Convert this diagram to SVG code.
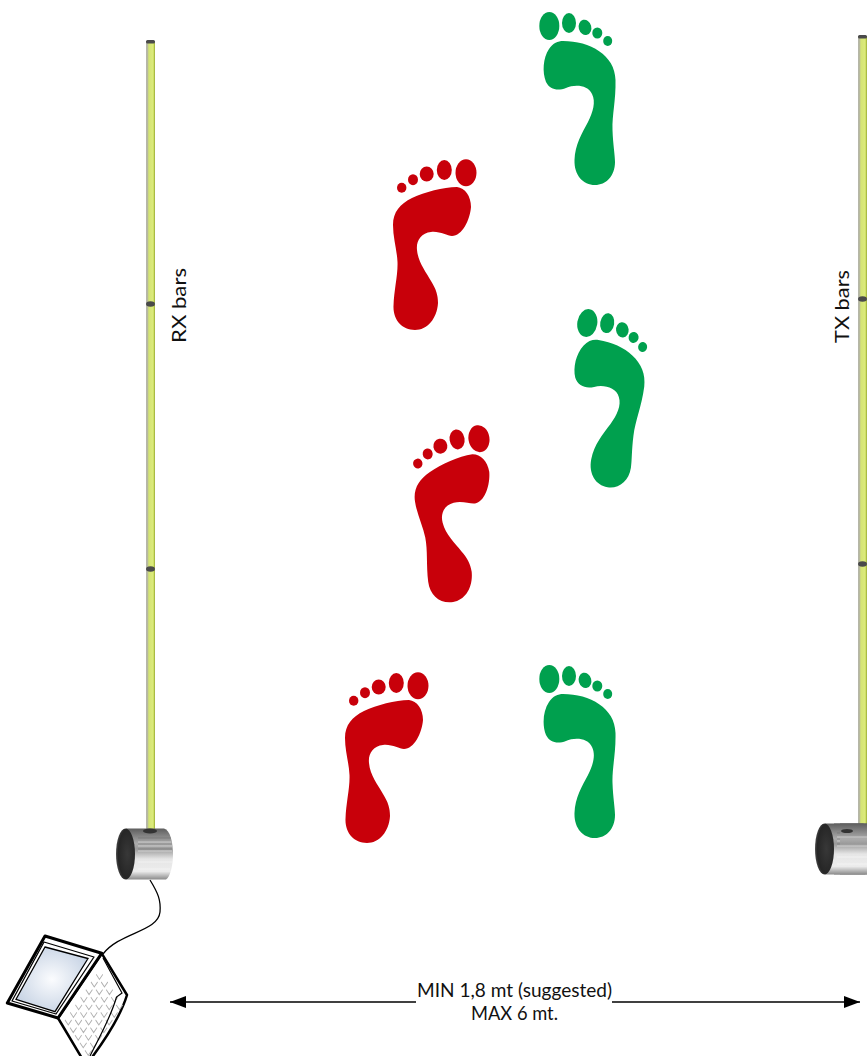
<svg xmlns="http://www.w3.org/2000/svg" width="867" height="1056" viewBox="0 0 867 1056">
<style>
text{font-family:Lato,"Open Sans","Liberation Sans",sans-serif;font-size:19.5px;fill:#111}
.conn{fill:none;stroke:#000;stroke-width:1.3}
.joint{fill:#4a4a4a}
.green{fill:#00a04e}
.red{fill:#c8000a}
.key{fill:none;stroke:#b0b0b0;stroke-width:.11}
.lap{fill:#fff;stroke:#000;stroke-linejoin:round}
.streak{stroke:#fff;stroke-opacity:.45;stroke-width:1;fill:none}
.streakd{stroke:#555;stroke-opacity:.35;stroke-width:1;fill:none}
</style>
<defs>
<linearGradient id="bar" x1="0" x2="1" y1="0" y2="0">
<stop offset="0" stop-color="#b5b5ae"/><stop offset=".22" stop-color="#b8bb98"/><stop offset=".3" stop-color="#d4e473"/><stop offset=".75" stop-color="#dbea7c"/><stop offset=".88" stop-color="#c8da5c"/><stop offset="1" stop-color="#8fa030"/>
</linearGradient>
<linearGradient id="metal" x1="0" x2="0" y1="0" y2="1">
<stop offset="0" stop-color="#5e5e5e"/><stop offset=".12" stop-color="#7d7d7d"/><stop offset=".3" stop-color="#acacac"/><stop offset=".4" stop-color="#9a9a9a"/><stop offset=".6" stop-color="#e6e6e6"/><stop offset=".84" stop-color="#ececec"/><stop offset="1" stop-color="#8a8a8a"/>
</linearGradient>
<radialGradient id="cap" cx=".6" cy=".5" r=".6">
<stop offset="0" stop-color="#383838"/><stop offset=".8" stop-color="#262626"/><stop offset="1" stop-color="#4a4a4a"/>
</radialGradient>
<radialGradient id="screen" cx=".5" cy=".5" r=".6">
<stop offset="0" stop-color="#fbfcfe"/><stop offset="1" stop-color="#c3d0e2"/>
</radialGradient>
<marker id="tip" viewBox="0 0 16 12" refX="16" refY="6" markerWidth="16" markerHeight="12" markerUnits="userSpaceOnUse" orient="auto-start-reverse"><path d="M0 0L16 6L0 12Z" fill="#000"/></marker>
<g id="greenFoot" class="green">
<ellipse cx="549.300" cy="26" rx="10" ry="14"/>
<ellipse cx="569" cy="23" rx="7" ry="10"/>
<ellipse cx="585" cy="27.300" rx="6.300" ry="7.700" transform="rotate(-15 585 27.300)"/>
<ellipse cx="597.300" cy="33" rx="5" ry="5.500"/>
<ellipse cx="607.700" cy="41" rx="4.500" ry="5"/>
<path d="M563 41C590 41 615 55 615.500 80C616 100 612 115 612.500 130C613 145 615 155 615 162C615 176 606 185 595 185C583 185 574 175 574.500 160C575 145 582 133 588 122C593 112 596 102 592 94C588 85 575 84 566 88C558 91 550 90 546 82C542 72 543 58 549 49C553 43 558 41 563 41Z"/>
</g>
<g id="redFoot" class="red">
<ellipse cx="466" cy="172.700" rx="10.500" ry="13.500"/>
<ellipse cx="444.300" cy="170" rx="7.500" ry="10"/>
<ellipse cx="426.700" cy="174" rx="7" ry="7.500"/>
<ellipse cx="413" cy="179.700" rx="5" ry="5.500"/>
<ellipse cx="401.700" cy="187.700" rx="4.700" ry="5"/>
<path d="M457 187C465 188 471 196 471 207C470 220 462 236 452 236C447 236 440 231 431 232C421 233 416 241 417 250C418 262 426 272 431 281C436 289 438 295 438 303C437 319 427 330 415 330C402 330 393 320 393.500 306C394 290 398 275 397.500 262C397 250 393 238 393 225C393 212 400 204 412 198C425 192 443 187 457 187Z"/>
</g>
<g id="drum">
<path d="M126 828.500H164C170 830 173 842 173 854C173 866 170 877 166 879.500H126Z" fill="url(#metal)"/>
<path class="streak" d="M138 842H171M138 846H172M138 851H172M138 862H172M138 869H170"/>
<path class="streakd" d="M138 838H171M138 844H172M138 849H172"/>
<ellipse cx="125.500" cy="854" rx="9.500" ry="25.500" fill="url(#cap)"/>
</g>
<path id="keyrow" class="key" d="M0 0v.65h.65m.35-.65v.65h.65m.35-.65v.65h.65m.35-.65v.65h.65m.35-.65v.65h.65m.35-.65v.65h.65m.35-.65v.65h.65"/>
</defs>

<g id="connectors">
<path class="conn" d="M150 880C158 893 161 900 160 912C158 932 120 932 103 954"/>
<line class="conn" x1="170" y1="1002" x2="416" y2="1002" marker-start="url(#tip)"/>
<line class="conn" x1="612" y1="1002" x2="860" y2="1002" marker-end="url(#tip)"/>
</g>

<g id="rx-bars">
<rect x="146" y="41" width="9" height="792" fill="url(#bar)"/>
<rect x="146" y="40" width="9" height="3.500" rx="1.500" class="joint"/>
<ellipse class="joint" cx="150.500" cy="304" rx="4.500" ry="2.800"/>
<ellipse class="joint" cx="150.500" cy="569" rx="4.500" ry="2.800"/>
</g>
<g id="tx-bars">
<rect x="858" y="36" width="9" height="792" fill="url(#bar)"/>
<rect x="858" y="35" width="9" height="3.500" rx="1.500" class="joint"/>
<ellipse class="joint" cx="862.500" cy="299" rx="4.500" ry="2.800"/>
<ellipse class="joint" cx="862.500" cy="564" rx="4.500" ry="2.800"/>
</g>
<g id="rx-label"><text transform="translate(186 343) rotate(-90)" textLength="75" lengthAdjust="spacingAndGlyphs">RX bars</text></g>
<g id="tx-label"><text transform="translate(849 343) rotate(-90)" textLength="73" lengthAdjust="spacingAndGlyphs">TX bars</text></g>

<g id="rx-drum"><use href="#drum"/><ellipse cx="150" cy="831" rx="7" ry="2.500" fill="#333"/></g>
<g id="tx-drum"><rect x="834" y="823.500" width="33" height="51" fill="url(#metal)"/><use href="#drum" x="699" y="-5"/><rect x="840" y="823.500" width="27" height="51" fill="url(#metal)"/><path class="streak" d="M840 837H867M840 846H867M840 857H867M840 864H867"/><ellipse cx="847" cy="831" rx="6" ry="2" fill="#333"/></g>

<g id="foot-green-1"><use href="#greenFoot"/></g>
<g id="foot-red-1"><use href="#redFoot"/></g>
<g id="foot-green-2"><use href="#greenFoot" transform="translate(38 297) rotate(9 549 26)"/></g>
<g id="foot-red-2"><use href="#redFoot" transform="translate(13 266) rotate(-9 466 173)"/></g>
<g id="foot-red-3"><use href="#redFoot" transform="translate(-48 513)"/></g>
<g id="foot-green-3"><use href="#greenFoot" transform="translate(0 653)"/></g>

<g id="laptop">
<path class="lap" stroke-width="2.500" d="M101.700 953.300L127 995C120 1018 105 1040 90 1060H83L58 1018Z"/>
<g transform="matrix(5.200 -7.600 5 7.600 65 1020)">
<use href="#keyrow"/><use href="#keyrow" y="1"/><use href="#keyrow" y="2"/><use href="#keyrow" y="3"/><use href="#keyrow" y="4"/>
</g>
<path d="M103 958L122 993L116.500 997C111 1017 100 1036 90 1056" style="fill:none;stroke:#000;stroke-width:1.200"/>
<path class="lap" stroke-width="3" d="M45 936L101.700 953.300L58 1018L7.300 1003Z"/>
<path class="lap" stroke-width="1.300" d="M44 942L94 957L56 1014L12 1001Z"/>
<path d="M45 947L88 958.500L55 1011.700L16 999.300Z" fill="url(#screen)" stroke="#000" stroke-width="1.300"/>
</g>

<g id="distance-label">
<text x="417" y="997" textLength="195" lengthAdjust="spacingAndGlyphs">MIN 1,8 mt (suggested)</text>
<text x="471" y="1020" textLength="87" lengthAdjust="spacingAndGlyphs">MAX 6 mt.</text>
</g>
</svg>
